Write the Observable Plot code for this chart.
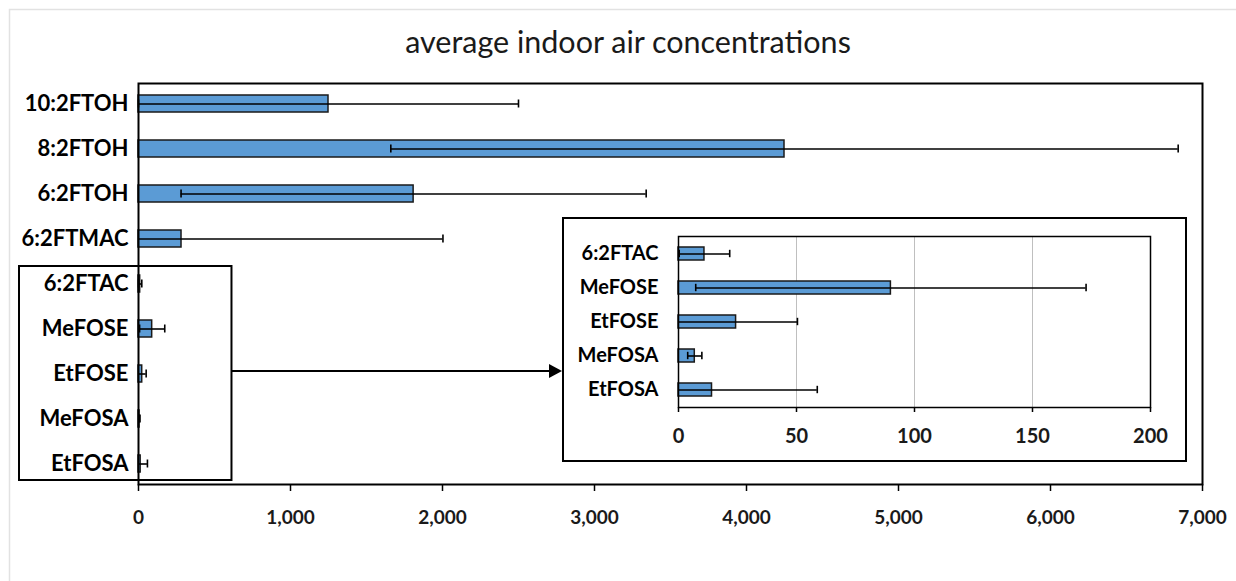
<!DOCTYPE html>
<html><head><meta charset="utf-8">
<script src="https://cdn.jsdelivr.net/npm/d3@7"></script>
<script src="https://cdn.jsdelivr.net/npm/@observablehq/plot@0.6"></script>
<style>body{margin:0;background:#fff;} #chart > svg{display:block}</style>
</head><body><div id="chart"></div>
<script>
// ---- data ----
const categories = ["10:2FTOH","8:2FTOH","6:2FTOH","6:2FTMAC","6:2FTAC","MeFOSE","EtFOSE","MeFOSA","EtFOSA"];
const means  = [1250, 4250, 1810, 283, 11, 90, 24.4, 6.9, 14.2];
const errors = [1250, 2590, 1530, 1720, 10.7, 82.7, 26, 3, 44.6];
const insetCategories = ["6:2FTAC","MeFOSE","EtFOSE","MeFOSA","EtFOSA"];
const mainTicks = [0,1000,2000,3000,4000,5000,6000,7000];
const insetTicks = [0,50,100,150,200];
const insetGrid = [50,100,150];
const titleText = "average indoor air concentrations";

const rows = categories.map((c,i)=>({cat:c, value:means[i], lo:means[i]-errors[i], hi:means[i]+errors[i]}));
const insetRows = rows.filter(d=>insetCategories.includes(d.cat));

function barMarks(data, capInset) {
  return [
    Plot.barX(data, {x:"value", y:"cat", fill:"#5b9bd5", stroke:"#1a1a1a", strokeWidth:1.5}),
    Plot.ruleY(data, {y:"cat", x1:d=>Math.max(0,d.lo), x2:"hi", stroke:"black", strokeWidth:1.6}),
    Plot.tickX(data.filter(d=>d.lo>=0), {x:"lo", y:"cat", stroke:"black", strokeWidth:1.6, insetTop:capInset, insetBottom:capInset}),
    Plot.tickX(data, {x:"hi", y:"cat", stroke:"black", strokeWidth:1.6, insetTop:capInset, insetBottom:capInset})
  ];
}

const fmt = d3.format(",");
const main = Plot.plot({
  width:1236, height:581, marginLeft:138, marginRight:34, marginTop:83, marginBottom:97,
  style:{fontFamily:"Lato, sans-serif", color:"black", background:"white"},
  x:{domain:[0,7000]},
  y:{domain:categories, paddingInner:0.62, paddingOuter:0.26},
  marks:[
    ...barMarks(rows, 4.5),
    Plot.axisX({ticks:mainTicks, tickFormat:()=>"", tickSize:7, strokeWidth:1.5, label:null}),
    Plot.text(mainTicks, {x:d=>d, text:d=>fmt(d), frameAnchor:"bottom", lineAnchor:"top", dy:26, fontSize:19, fontWeight:"bold", fill:"#1a1a1a"}),
    Plot.axisY({tickSize:0, tickPadding:10, fontSize:22, fontWeight:"bold", label:null}),
    Plot.frame({stroke:"black", strokeWidth:2})
  ]
});

const inset = Plot.plot({
  width:623, height:244, marginLeft:115, marginRight:36, marginTop:18, marginBottom:55,
  style:{fontFamily:"Lato, sans-serif", color:"black", background:"white"},
  x:{domain:[0,200]},
  y:{domain:insetCategories, paddingInner:0.61, paddingOuter:0.3},
  marks:[
    Plot.gridX(insetGrid, {stroke:"#bfbfbf", strokeOpacity:1, strokeWidth:1}),
    ...barMarks(insetRows, 2.8),
    Plot.axisX({ticks:insetTicks, tickFormat:()=>"", tickSize:5, strokeWidth:1.5, label:null}),
    Plot.text(insetTicks, {x:d=>d, text:d=>String(d), frameAnchor:"bottom", lineAnchor:"top", dy:21, fontSize:20, fontWeight:"bold", fill:"#1a1a1a"}),
    Plot.axisY({tickSize:0, tickPadding:20, fontSize:20, fontWeight:"bold", label:null}),
    Plot.frame({stroke:"black", strokeWidth:1.5})
  ]
});

document.getElementById("chart").appendChild(main);
const svg = d3.select(main);
const ys = main.scale("y"), xs = main.scale("x");

// faint outer border
svg.insert("rect", ":first-child").attr("x",9.5).attr("y",9.5).attr("width",1300).attr("height",700)
  .attr("fill","none").attr("stroke","#e2e2e2").attr("stroke-width",1.5);

// title
svg.append("text").attr("x",628).attr("y",45).attr("text-anchor","middle").attr("dominant-baseline","middle")
  .attr("font-size",30.5).attr("fill","#1a1a1a").text(titleText);

// selection box around small compounds
const boxTop = ys.apply("6:2FTAC") - 9;
const boxBottom = ys.apply("EtFOSA") + ys.bandwidth + 8;
const boxLeft = 19, boxRight = xs.apply(615);
svg.append("rect").attr("x",boxLeft).attr("y",boxTop).attr("width",boxRight-boxLeft).attr("height",boxBottom-boxTop)
  .attr("fill","none").attr("stroke","black").attr("stroke-width",2);

// inset placement
const insetX = 563, insetY = 218;
inset.setAttribute("x", insetX);
inset.setAttribute("y", insetY);
inset.style.width = "623px";
inset.style.height = "244px";
inset.style.maxWidth = "none";
main.appendChild(inset);
svg.append("rect").attr("x",insetX).attr("y",insetY).attr("width",623).attr("height",243)
  .attr("fill","none").attr("stroke","black").attr("stroke-width",2);

// arrow
const ay = (boxTop+boxBottom)/2 - 2;
svg.append("line").attr("x1",boxRight).attr("x2",insetX-10).attr("y1",ay).attr("y2",ay)
  .attr("stroke","black").attr("stroke-width",2);
svg.append("path").attr("d",`M${insetX-1},${ay} L${insetX-14},${ay-7} L${insetX-14},${ay+7} Z`).attr("fill","black");
</script></body></html>
